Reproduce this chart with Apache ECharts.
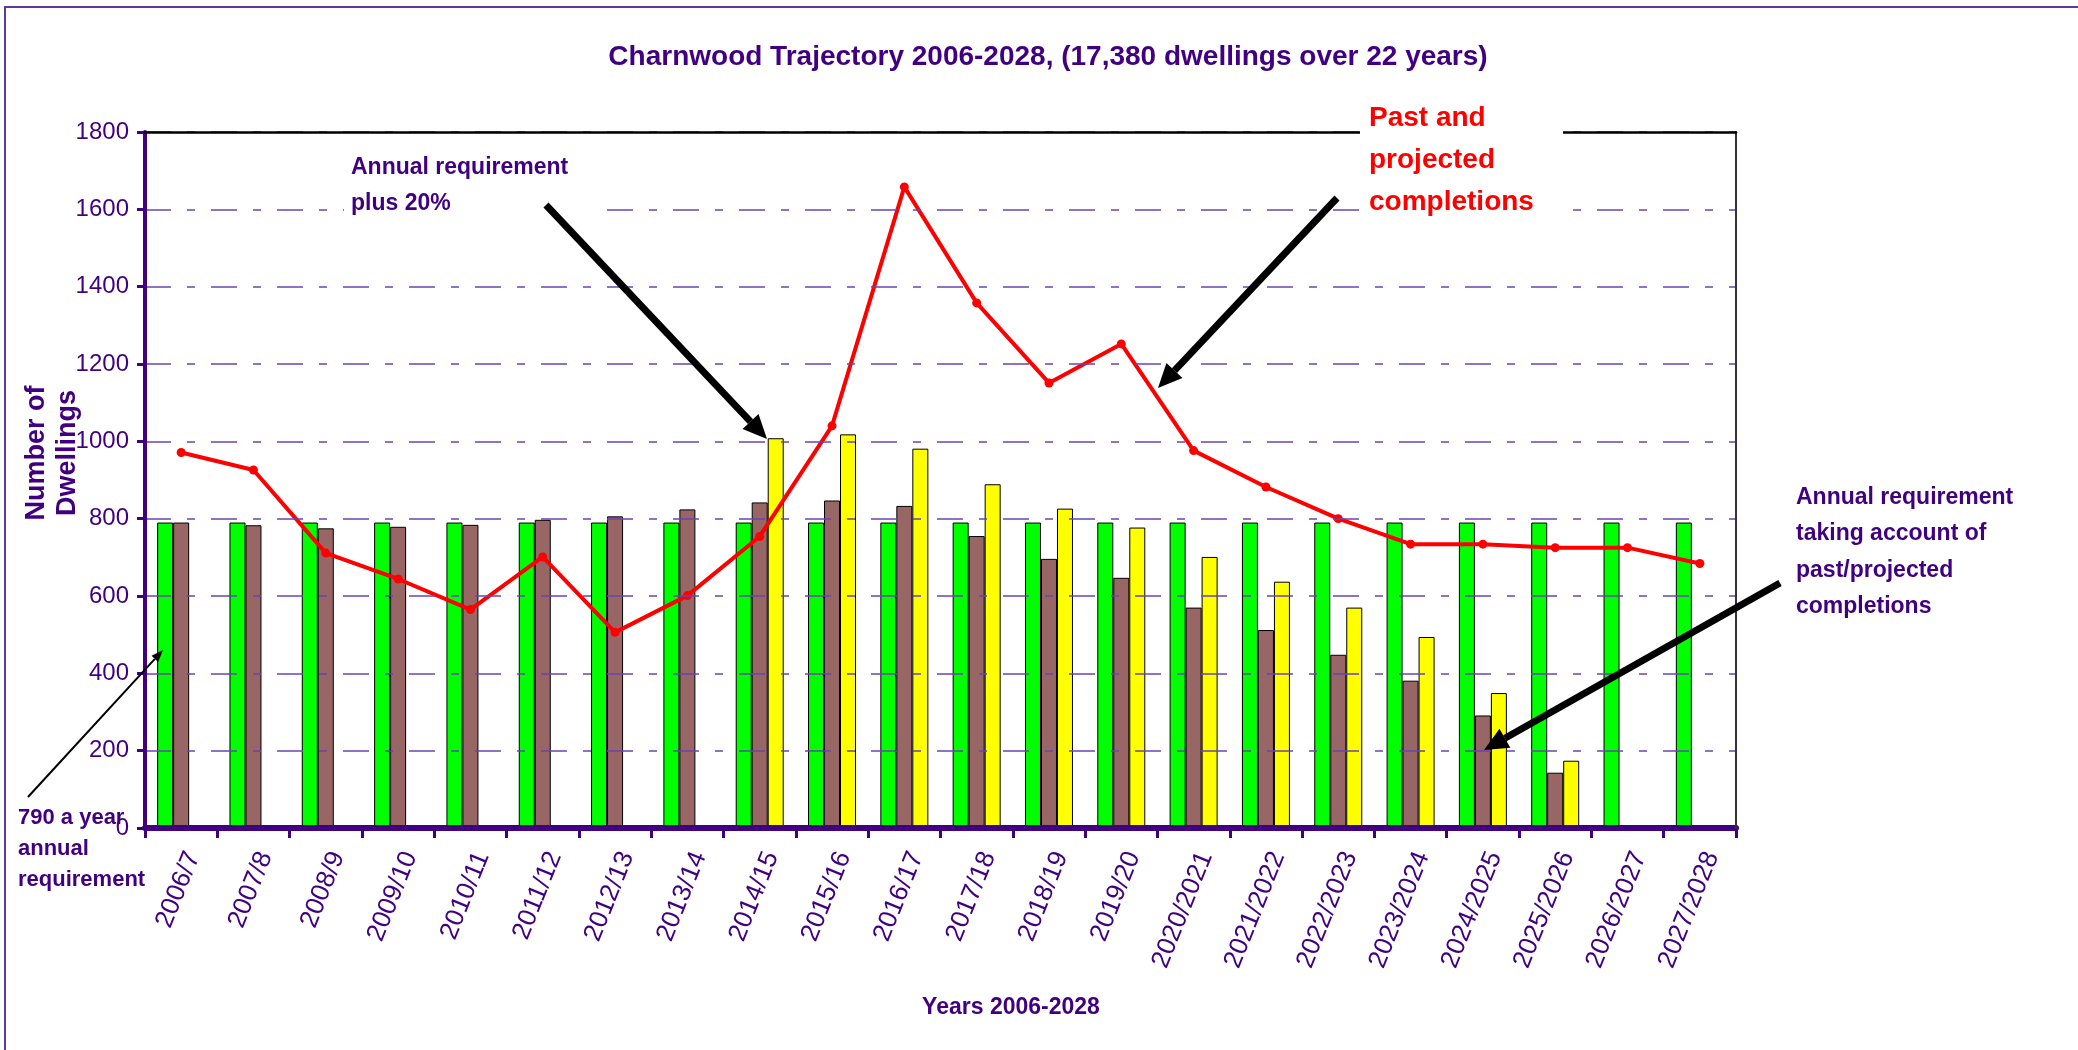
<!DOCTYPE html>
<html>
<head>
<meta charset="utf-8">
<script src="https://cdn.jsdelivr.net/npm/echarts@6/dist/echarts.min.js"></script>
<style>
html,body{margin:0;padding:0;background:#fff;}
#chart{width:2078px;height:1050px;}
</style>
</head>
<body>
<div id="chart"></div>
<script>
var categories = ['2006/7','2007/8','2008/9','2009/10','2010/11','2011/12','2012/13','2013/14','2014/15','2015/16','2016/17','2017/18','2018/19','2019/20','2020/2021','2021/2022','2022/2023','2023/2024','2024/2025','2025/2026','2026/2027','2027/2028'];
var annualRequirement = [790,790,790,790,790,790,790,790,790,790,790,790,790,790,790,790,790,790,790,790,790,790];
var adjustedRequirement = [790,783,775,779,784,797,806,824,842,847,833,755,696,647,570,512,448,381,291,143,null,null];
var requirementPlus20 = [null,null,null,null,null,null,null,null,1008,1018,981,889,826,777,701,637,570,494,349,174,null,null];
var completions = [971,926,711,644,565,701,506,601,754,1040,1658,1358,1151,1252,976,882,800,734,734,725,725,684];
var yTicks = {min:0, max:1800, interval:200};

var PURPLE = '#400080';
var FONT = '"Liberation Sans", Arial, sans-serif';

function arrow(x1,y1,x2,y2,w,hl,hw){
  var a = Math.atan2(y2-y1,x2-x1);
  var bx = x2 - hl*Math.cos(a), by = y2 - hl*Math.sin(a);
  var px = -Math.sin(a)*hw/2, py = Math.cos(a)*hw/2;
  return [
    {type:'line', z:100, shape:{x1:x1,y1:y1,x2:bx,y2:by}, style:{stroke:'#000',lineWidth:w}},
    {type:'polygon', z:100, shape:{points:[[x2,y2],[bx+px,by+py],[bx-px,by-py]]}, style:{fill:'#000'}}
  ];
}

var graphics = [
  {type:'rect', z:-10, silent:true, shape:{x:5,y:7,width:2100,height:2100}, style:{fill:'none',stroke:'#5a3a9a',lineWidth:2}},
  {type:'text', z:50, style:{text:'Charnwood Trajectory 2006-2028, (17,380 dwellings over 22 years)', x:1048, y:57, textAlign:'center', textVerticalAlign:'middle', font:'bold 28px '+FONT, fill:PURPLE}},
  {type:'text', z:50, style:{text:'Years 2006-2028', x:1011, y:1008, textAlign:'center', textVerticalAlign:'middle', font:'bold 23px '+FONT, fill:PURPLE}},
  {type:'text', z:50, rotation:Math.PI/2, x:52, y:453, style:{text:'Number of\nDwellings', x:0, y:0, textAlign:'center', textVerticalAlign:'middle', font:'bold 27px '+FONT, fill:PURPLE, lineHeight:31}},
  {type:'rect', z:40, shape:{x:344,y:145,width:254,height:72}, style:{fill:'#fff'}},
  {type:'text', z:50, style:{text:'Annual requirement\nplus 20%', x:351, y:150, textAlign:'left', textVerticalAlign:'top', font:'bold 23px '+FONT, fill:PURPLE, lineHeight:36}},
  {type:'rect', z:40, shape:{x:1360,y:98,width:203,height:124}, style:{fill:'#fff'}},
  {type:'text', z:50, style:{text:'Past and\nprojected\ncompletions', x:1369, y:97, textAlign:'left', textVerticalAlign:'top', font:'bold 28px '+FONT, fill:'#ff0000', lineHeight:42}},
  {type:'text', z:50, style:{text:'Annual requirement\ntaking account of\npast/projected\ncompletions', x:1796, y:479, textAlign:'left', textVerticalAlign:'top', font:'bold 23px '+FONT, fill:PURPLE, lineHeight:36.5}},
  {type:'text', z:50, style:{text:'790 a year\nannual\nrequirement', x:18, y:802, textAlign:'left', textVerticalAlign:'top', font:'bold 22px '+FONT, fill:PURPLE, lineHeight:31}}
];
graphics = graphics.concat(arrow(546,205,767,439,7,24,22));
graphics = graphics.concat(arrow(1337,198,1158,388,7,24,22));
graphics = graphics.concat(arrow(1780,583,1484,750,7,24,22));
graphics = graphics.concat(arrow(28,797,163,650,2,12,9));

var chart = echarts.init(document.getElementById('chart'), null, {renderer:'canvas'});
chart.setOption({
  backgroundColor:'#ffffff',
  animation:false,
  grid:{left:145, top:132, width:1591, height:696},
  xAxis:[{
    type:'category', data:categories, boundaryGap:true, z:10,
    axisLine:{lineStyle:{color:PURPLE,width:6}},
    axisTick:{show:true, alignWithLabel:false, length:10, lineStyle:{color:PURPLE,width:3}},
    axisLabel:{rotate:68, color:PURPLE, fontFamily:FONT, fontSize:26, margin:20, interval:0, verticalAlign:'top'}
  },{
    type:'category', data:categories, position:'top', z:30,
    axisLine:{show:true, onZero:false, lineStyle:{color:'#000',width:2.5}},
    axisTick:{show:false}, axisLabel:{show:false}, splitLine:{show:false}
  }],
  yAxis:[{
    type:'value', min:yTicks.min, max:yTicks.max, interval:yTicks.interval, z:10,
    axisLine:{show:true, lineStyle:{color:PURPLE,width:4}},
    axisTick:{show:true, length:8, lineStyle:{color:PURPLE,width:3}},
    axisLabel:{color:PURPLE, fontFamily:FONT, fontSize:24, margin:16, formatter:function(v){return String(v);}},
    splitLine:{show:true, lineStyle:{color:'#6a44b0', width:1.5, type:[26,16,8,16]}}
  },{
    type:'value', min:yTicks.min, max:yTicks.max, interval:yTicks.interval, position:'right', z:30,
    axisLine:{show:true, onZero:false, lineStyle:{color:'#333',width:2}},
    axisTick:{show:false}, axisLabel:{show:false}, splitLine:{show:false}
  }],
  series:[
    {name:'Annual requirement', type:'bar', data:annualRequirement, barWidth:16, barGap:'0%',
     itemStyle:{color:'#00ff00', borderColor:'#000', borderWidth:1}},
    {name:'Annual requirement taking account of past/projected completions', type:'bar', data:adjustedRequirement, barWidth:16, barGap:'0%',
     itemStyle:{color:'#996666', borderColor:'#000', borderWidth:1}},
    {name:'Annual requirement plus 20%', type:'bar', data:requirementPlus20, barWidth:16, barGap:'0%',
     itemStyle:{color:'#ffff00', borderColor:'#000', borderWidth:1}},
    {name:'Past and projected completions', type:'line', data:completions, z:5,
     lineStyle:{color:'#ff0000', width:4}, itemStyle:{color:'#ff0000'},
     symbol:'circle', symbolSize:9, showSymbol:true}
  ],
  graphic:graphics
});
</script>
</body>
</html>
